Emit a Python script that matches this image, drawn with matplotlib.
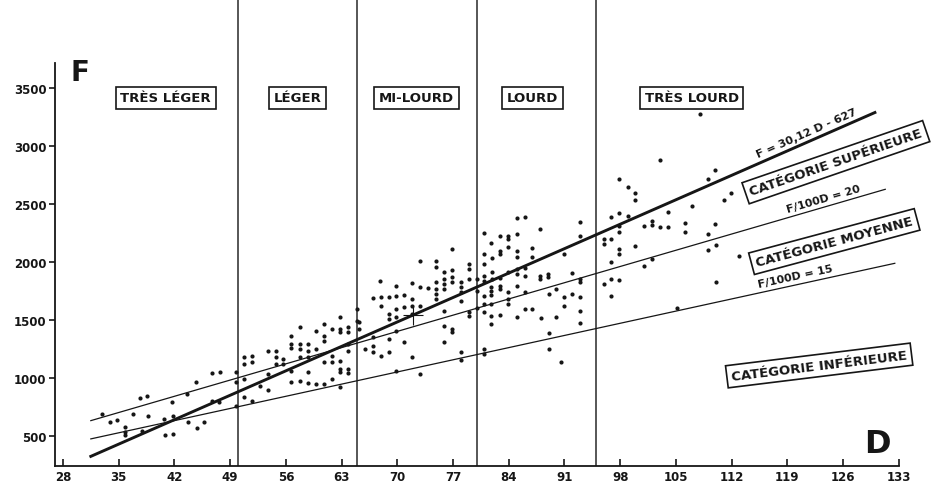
import numpy as np
import matplotlib
matplotlib.use("Agg")
import matplotlib.pyplot as plt

# axes / ticks
d_ticks = [28, 35, 42, 49, 56, 63, 70, 77, 84, 91, 98, 105, 112, 119, 126, 133]
f_ticks = [500, 1000, 1500, 2000, 2500, 3000, 3500]

# weight classes (limits of D) and their labels
class_bounds = [50, 65, 80, 95]
class_names = ["TRÈS LÉGER", "LÉGER", "MI-LOURD", "LOURD", "TRÈS LOURD"]
class_label_d = [40.9, 57.5, 72.4, 87.0, 107.0]

# regression F = 30,12 D - 627 and iso-lines F/100D = 20, 15
reg_slope, reg_icpt = 30.12, -627
reg_d = [31.5, 130.0]
iso_k = [20, 15]
iso_d = [[31.5, 131.3], [31.5, 132.5]]
mean_d, mean_f = 72.0, 1542

D = [32.9, 33.9, 34.8, 35.8, 35.8, 35.8, 36.8, 37.7, 38.6, 37.9, 38.7, 40.7, 40.8, 41.8,
     41.7, 41.8, 43.6, 43.7, 44.7, 44.8, 45.7, 46.7, 47.7, 46.7, 47.6, 49.7, 49.7, 49.7,
     50.7, 50.7, 51.7, 51.7, 50.7, 50.7, 51.7, 52.7, 53.7, 53.7, 53.7, 54.8, 54.8, 54.8,
     55.7, 55.7, 56.7, 56.7, 56.7, 56.7, 56.7, 57.8, 57.8, 57.8, 57.8, 57.8, 58.8, 58.8,
     58.8, 58.8, 58.8, 59.8, 59.8, 59.8, 60.8, 60.8, 60.8, 60.8, 60.8, 61.8, 61.8, 61.8,
     61.8, 62.8, 62.8, 62.8, 62.8, 62.8, 62.8, 62.8, 63.8, 63.8, 63.8, 63.8, 63.8, 63.8,
     64.9, 64.9,
     65.2, 65.2, 66.9, 68.0, 68.9, 67.8, 68.0, 69.9, 69.9, 70.8, 68.9, 68.9, 69.9, 69.9,
     70.8, 71.9, 71.9, 71.9, 71.9, 72.8, 72.8, 72.8, 73.9, 74.9, 74.9, 74.9, 74.9, 74.9,
     74.9, 75.9, 75.9, 75.9, 75.9, 75.9, 75.9, 75.9, 76.9, 76.9, 76.9, 76.9, 76.9, 76.9,
     78.0, 78.0, 78.0, 78.0, 78.0, 78.0, 79.0, 79.0, 79.0, 79.0, 79.0, 65.9, 66.9, 66.9,
     66.9, 68.0, 68.9, 68.9, 69.9, 70.9, 71.9, 69.9, 72.9,
     85.0, 86.0, 80.9, 81.8, 82.9, 82.9, 82.9, 83.9, 83.9, 83.9, 85.0, 85.0, 85.0, 80.9,
     80.9, 81.9, 86.9, 86.9, 87.9, 90.9, 92.9, 92.9, 80.9, 80.9, 81.9, 81.9, 82.9, 82.9,
     83.9, 85.0, 85.0, 86.0, 86.0, 87.9, 87.9, 88.9, 88.9, 92.0, 92.9, 92.9, 81.8, 81.8,
     81.8, 82.9, 83.9, 85.0, 86.0, 80.9, 80.9, 81.8, 83.9, 83.9, 89.1, 90.0, 90.9, 90.9,
     91.9, 92.9, 92.9, 80.9, 81.8, 81.8, 82.9, 85.0, 86.0, 86.9, 88.0, 90.0, 92.9, 89.0,
     80.9, 80.9, 89.1, 90.6, 80.0, 80.0, 80.0,
     108.0, 103.0, 109.9, 109.0, 97.9, 99.0, 99.9, 99.9, 111.9, 111.0, 107.0, 96.8, 97.9,
     99.0, 97.9, 97.9, 101.0, 102.0, 102.0, 103.0, 104.0, 104.0, 106.1, 106.1, 109.9,
     109.0, 96.0, 96.0, 96.9, 97.9, 97.9, 99.9, 109.0, 110.0, 96.8, 102.0, 101.0, 112.9,
     96.0, 96.9, 97.9, 96.9, 110.0, 105.1]
F = [687, 616, 635, 572, 506, 532, 687, 825, 840, 543, 673, 644, 506, 515,
     788, 673, 860, 621, 966, 564, 616, 1041, 1047, 802, 788, 1052, 961, 754,
     1182, 1119, 1190, 1133, 989, 831, 802, 926, 897, 1032, 1233, 1233, 1176, 1119,
     1162, 1119, 1363, 1291, 1254, 1061, 961, 1435, 1291, 1248, 1176, 975, 1291, 1233,
     1176, 1047, 955, 1406, 1248, 946, 1464, 1363, 1320, 1133, 946, 1421, 1190, 1133,
     989, 1522, 1421, 1392, 1147, 1076, 1047, 918, 1435, 1392, 1291, 1233, 1076, 1041,
     1590, 1492,
     1421, 1478, 1686, 1694, 1694, 1837, 1622, 1789, 1703, 1714, 1550, 1507, 1593, 1521,
     1608, 1818, 1680, 1622, 1550, 2010, 1780, 1622, 1772, 2010, 1953, 1824, 1766, 1723,
     1680, 1915, 1852, 1809, 1766, 1578, 1449, 1306, 1932, 1867, 1824, 1421, 1392, 2111,
     1824, 1780, 1737, 1665, 1220, 1156, 1981, 1938, 1852, 1565, 1535, 1248, 1349, 1277,
     1220, 1190, 1334, 1220, 1406, 1306, 1176, 1061, 1032,
     2376, 2390, 2249, 2163, 2226, 2096, 2068, 2226, 2197, 2125, 2240, 2096, 2039, 2068,
     1981, 2031, 2117, 2039, 2283, 2068, 2346, 2226, 1881, 1837, 1910, 1852, 1860, 1794,
     1910, 1938, 1895, 1944, 1875, 1881, 1852, 1895, 1867, 1904, 1852, 1824, 1780, 1751,
     1714, 1766, 1742, 1794, 1737, 1708, 1636, 1636, 1680, 1636, 1723, 1766, 1694, 1622,
     1723, 1694, 1578, 1565, 1535, 1464, 1541, 1521, 1593, 1593, 1513, 1521, 1472, 1386,
     1248, 1205, 1248, 1139, 1850, 1750, 1600,
     3276, 2881, 2795, 2715, 2715, 2643, 2591, 2534, 2591, 2536, 2484, 2384, 2421,
     2393, 2312, 2260, 2312, 2355, 2318, 2298, 2427, 2298, 2335, 2260, 2326,
     2240, 2197, 2154, 2197, 2111, 2068, 2139, 2105, 2146, 2001, 2025, 1967, 2048,
     1809, 1852, 1846, 1708, 1829, 1599]

INK = "#161616"
plt.rcParams["font.family"] = ["DejaVu Sans"]
plt.rcParams["font.weight"] = "bold"

fig = plt.figure(figsize=(9.35, 4.85), dpi=100)
ax = fig.add_axes([0, 0, 1, 1])
ax.set_xlim(20.09, 137.55)
ax.set_ylim(83.3, 4268)

# axes drawn as in the original: spines crossing at (27, 240)
x0, y0 = 27, 240
for s in ["top", "right"]:
    ax.spines[s].set_visible(False)
ax.spines["left"].set_position(("data", x0))
ax.spines["bottom"].set_position(("data", y0))
ax.spines["left"].set_bounds(y0, 3720)
ax.spines["bottom"].set_bounds(x0, d_ticks[-1])
for s in ["left", "bottom"]:
    ax.spines[s].set_linewidth(1.3)
    ax.spines[s].set_color(INK)

ax.set_xticks(d_ticks, [str(t) for t in d_ticks])
ax.set_yticks(f_ticks, [str(t) for t in f_ticks])
ax.tick_params(axis="x", direction="in", length=5, width=1.2, pad=3,
               labelsize=8.5, colors=INK)
ax.tick_params(axis="y", direction="out", length=4, width=1.2, pad=2,
               labelsize=8.5, colors=INK)

# class limits
ax.vlines(class_bounds, y0, ax.get_ylim()[1], color="#3a3a3a", lw=1.2, zorder=1)

# points (small blots, a bit taller than wide like in the print)
ax.scatter(D, F, s=9, color=INK, marker="o", linewidths=0, zorder=2)
ax.plot([mean_d], [mean_f], marker="+", ms=14, mew=0.8, color=INK, zorder=3)

# lines
rd = np.array(reg_d)
ax.plot(rd, reg_slope * rd + reg_icpt, color=INK, lw=2.1, zorder=3)
for k, dd in zip(iso_k, iso_d):
    dd = np.array(dd)
    ax.plot(dd, k * dd, color=INK, lw=0.9, zorder=3)

# line labels, rotated along the lines
lab_kw = dict(fontsize=8, fontweight="bold", color=INK, ha="center", va="bottom",
              rotation_mode="anchor", transform_rotates_text=True)
ax.text(121.7, reg_slope * 121.7 + reg_icpt + 40, "F = 30,12 D - 627",
        rotation=np.degrees(np.arctan(reg_slope)), **lab_kw)
ax.text(123.7, 20 * 123.7 + 30, "F/100D = 20",
        rotation=np.degrees(np.arctan(20)), **lab_kw)
ax.text(120.2, 15 * 120.2 + 30, "F/100D = 15",
        rotation=np.degrees(np.arctan(15)), **lab_kw)

# boxed labels
box = dict(boxstyle="square,pad=0.35", fc="white", ec=INK, lw=1.2)
for name, xd in zip(class_names, class_label_d):
    ax.text(xd, 3414, name, fontsize=9.5, fontweight="bold", color=INK,
            ha="center", va="center", bbox=box, zorder=5)

cat_names = ["CATÉGORIE SUPÉRIEURE", "CATÉGORIE MOYENNE", "CATÉGORIE INFÉRIEURE"]
cat_pos = [(125.1, 2860), (124.9, 2175), (123.0, 1106)]
cat_rot = [19, 15, 7]
for name, (xd, yf), r in zip(cat_names, cat_pos, cat_rot):
    ax.text(xd, yf, name, fontsize=9.5, fontweight="bold", color=INK,
            ha="center", va="center", rotation=r, rotation_mode="anchor",
            bbox=box, zorder=5)

# axis letters
ax.text(30.1, 3640, "F", fontsize=20, fontweight="heavy", color=INK,
        ha="center", va="center")
ax.text(130.3, 430, "D", fontsize=23, fontweight="heavy", color=INK,
        ha="center", va="center")

fig.savefig("out.png", dpi=100, facecolor="white")
